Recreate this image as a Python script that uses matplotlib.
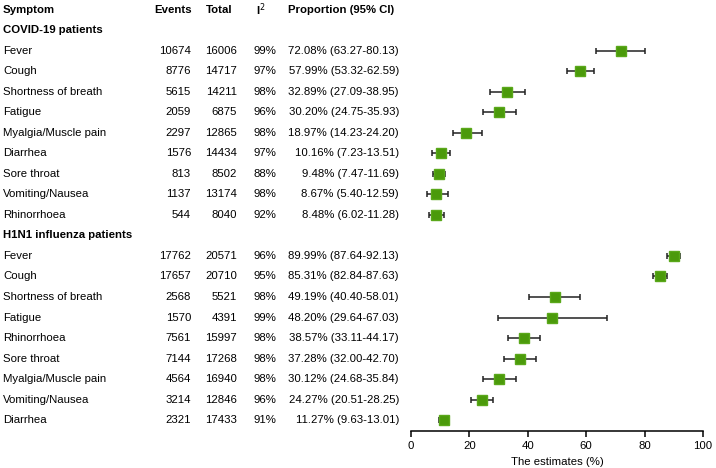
import numpy as np
import matplotlib
matplotlib.use("Agg")
import matplotlib.pyplot as plt
from matplotlib.transforms import blended_transform_factory

plt.rcParams['font.family'] = ['Liberation Sans', 'DejaVu Sans']

groups = ["COVID-19 patients", "H1N1 influenza patients"]

covid_symptoms = ["Fever", "Cough", "Shortness of breath", "Fatigue", "Myalgia/Muscle pain",
                  "Diarrhea", "Sore throat", "Vomiting/Nausea", "Rhinorrhoea"]
covid_events = [10674, 8776, 5615, 2059, 2297, 1576, 813, 1137, 544]
covid_total = [16006, 14717, 14211, 6875, 12865, 14434, 8502, 13174, 8040]
covid_i2 = [99, 97, 98, 96, 98, 97, 88, 98, 92]
covid_est = [72.08, 57.99, 32.89, 30.20, 18.97, 10.16, 9.48, 8.67, 8.48]
covid_lo = [63.27, 53.32, 27.09, 24.75, 14.23, 7.23, 7.47, 5.40, 6.02]
covid_hi = [80.13, 62.59, 38.95, 35.93, 24.20, 13.51, 11.69, 12.59, 11.28]

h1n1_symptoms = ["Fever", "Cough", "Shortness of breath", "Fatigue", "Rhinorrhoea",
                 "Sore throat", "Myalgia/Muscle pain", "Vomiting/Nausea", "Diarrhea"]
h1n1_events = [17762, 17657, 2568, 1570, 7561, 7144, 4564, 3214, 2321]
h1n1_total = [20571, 20710, 5521, 4391, 15997, 17268, 16940, 12846, 17433]
h1n1_i2 = [96, 95, 98, 99, 98, 98, 98, 96, 91]
h1n1_est = [89.99, 85.31, 49.19, 48.20, 38.57, 37.28, 30.12, 24.27, 11.27]
h1n1_lo = [87.64, 82.84, 40.40, 29.64, 33.11, 32.00, 24.68, 20.51, 9.63]
h1n1_hi = [92.13, 87.63, 58.01, 67.03, 44.17, 42.70, 35.84, 28.25, 13.01]

W, H = 716, 468
fig = plt.figure(figsize=(W / 100, H / 100), dpi=100)
ax = fig.add_axes([411 / W, (H - 431) / H, 292 / W, 431 / H])

green = '#4b9a0b'
fs = 8.2

tr = blended_transform_factory(fig.transFigure, ax.transData)

def put(px, row, s, ha='left', bold=False):
    ax.text(px / W, row, s, transform=tr, ha=ha, va='center', fontsize=fs,
            fontweight='bold' if bold else 'normal', clip_on=False)

# column headers
put(3, 0, "Symptom", bold=True)
put(192, 0, "Events", ha='right', bold=True)
put(233, 0, "Total", ha='right', bold=True)
put(256, 0, r"I$^{2}$", bold=True)
put(288, 0, "Proportion (95% CI)", bold=True)

row = 1
blocks = [
    (covid_symptoms, covid_events, covid_total, covid_i2, covid_est, covid_lo, covid_hi),
    (h1n1_symptoms, h1n1_events, h1n1_total, h1n1_i2, h1n1_est, h1n1_lo, h1n1_hi),
]
for g, (sym, ev, tot, i2, est, lo, hi) in zip(groups, blocks):
    put(3, row, g, bold=True)
    row += 1
    rows = np.arange(row, row + len(sym))
    for r, s, e, t, q, m, a, b in zip(rows, sym, ev, tot, i2, est, lo, hi):
        put(3, r, s)
        put(191, r, str(e), ha='right')
        put(237, r, str(t), ha='right')
        put(254, r, f"{q}%")
        put(399, r, f"{m:.2f}% ({a:.2f}-{b:.2f})", ha='right')
    est = np.array(est)
    ax.errorbar(est, rows, xerr=[est - np.array(lo), np.array(hi) - est],
                fmt='s', color=green, markersize=7, markeredgecolor='#5aa81a',
                ecolor='#222222', elinewidth=1.1, capsize=2.5, capthick=1.1)
    row += len(sym)

ax.set_xlim(0, 100)
ax.set_ylim(20.53, -0.47)
ax.set_xticks([0, 20, 40, 60, 80, 100])
ax.tick_params(axis='x', labelsize=fs, length=4, width=1.1, direction='out')
ax.set_yticks([])
for sp in ['top', 'right', 'left']:
    ax.spines[sp].set_visible(False)
ax.spines['bottom'].set_linewidth(1.1)
ax.spines['bottom'].set_bounds(0, 100)
ax.set_xlabel("The estimates (%)", fontsize=fs, labelpad=4)

fig.savefig("out.png", dpi=100)
